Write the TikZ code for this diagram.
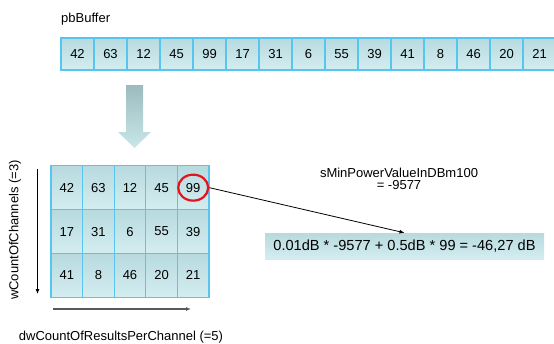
\documentclass[tikz,border=0pt]{standalone}
\usepackage{fontspec}
\setmainfont{Liberation Sans}
\usetikzlibrary{arrows.meta,positioning,shapes.geometric}
\definecolor{celltop}{HTML}{B7DADF}
\definecolor{cellbot}{HTML}{D4EDF0}
\definecolor{cellline}{HTML}{56C5EF}
\definecolor{arrowtop}{HTML}{9BBBBE}
\definecolor{arrowbot}{HTML}{C8E7E9}
\definecolor{marker}{HTML}{E3141B}

\begin{document}
\begin{tikzpicture}[x=1pt,y=-1pt,
  bufcell/.style={draw=cellline,line width=1.1pt,top color=celltop,bottom color=cellbot,minimum width=33pt,minimum height=32pt,inner sep=0pt,font=\fontsize{13}{15}\selectfont},
  gridcell/.style={bufcell,minimum width=31.6pt,minimum height=43.9pt},
  lbl/.style={font=\fontsize{13}{13}\selectfont,align=center,inner sep=0pt},
  formula/.style={top color=celltop,bottom color=cellbot,minimum width=279pt,minimum height=26pt,inner sep=0pt,font=\fontsize{14.6}{16}\selectfont},
  arrow/.style={-{Latex[length=5pt,width=4pt]},line width=0.8pt}
]
\useasboundingbox (0,0) rectangle (554,343);
% pbBuffer row
\node[lbl,anchor=west] (buflbl) at (61,19) {pbBuffer};
\foreach \v [count=\i] in {42,63,12,45,99,17,31,6,55,39,41,8,46,20,21}
  \node[bufcell] (buf\i) at ({61+33*(\i-0.5)},54) {\v};
% block arrow
\shade[top color=arrowtop,bottom color=arrowbot] (126,85) -- (143,85) -- (143,132) -- (151,132) -- (134.5,148) -- (118,132) -- (126,132) -- cycle;
% 3x5 grid
\foreach \row [count=\r] in {{42,63,12,45,99},{17,31,6,55,39},{41,8,46,20,21}}
  \foreach \v [count=\c] in \row
    \node[gridcell] (cell-\r-\c) at ({51+31.6*(\c-0.5)},{165.7+43.9*(\r-0.5)}) {\v};
\node[draw=marker,line width=2.2pt,ellipse,minimum width=30pt,minimum height=26pt,inner sep=0pt] (mark) at (cell-1-5) {};
% axes
\coordinate (chtop) at (37.5,169);
\coordinate (chbot) at (37.5,294);
\draw[arrow] (chtop) -- (chbot);
\node[lbl,rotate=90] (chlbl) at (15,230) {wCountOfChannels (=3)};
\coordinate (resleft) at (53,309);
\coordinate (resright) at (191,309);
\draw[arrow,draw=black!65,line width=1.2pt] (resleft) -- (resright);
\node[lbl] (reslbl) at (121,337) {dwCountOfResultsPerChannel (=5)};
% result
\node[lbl] (minlbl) at (399,179) {sMinPowerValueInDBm100\\[-1pt]= -9577};
\node[formula] (calc) at (404.5,246) {0.01dB * -9577 + 0.5dB * 99 = -46,27 dB};
\draw[arrow] (mark.east) -- (calc.north);
\end{tikzpicture}
\end{document}
